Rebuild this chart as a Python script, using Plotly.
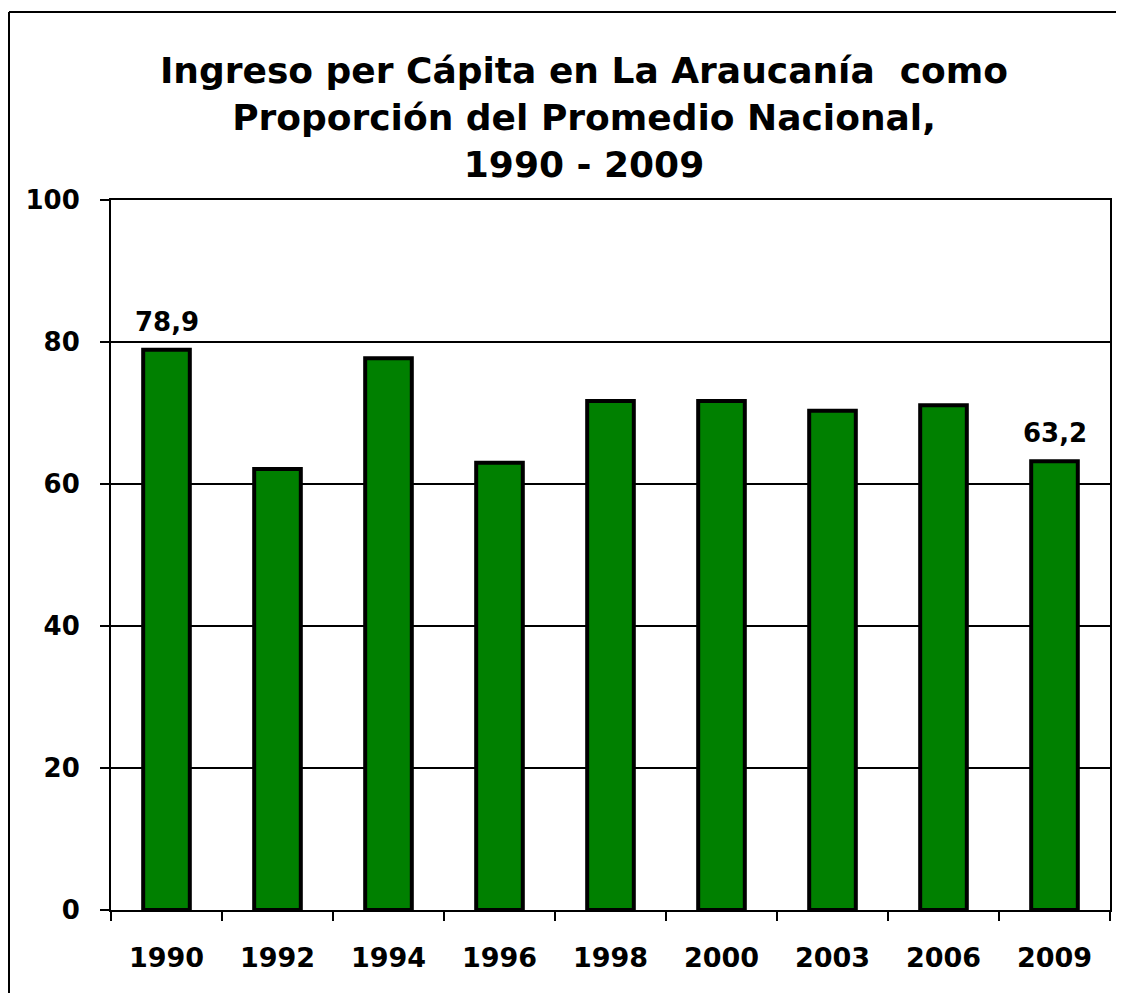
import plotly.graph_objects as go

years = ["1990", "1992", "1994", "1996", "1998", "2000", "2003", "2006", "2009"]
values = [78.9, 62.1, 77.7, 63.0, 71.7, 71.7, 70.3, 71.1, 63.2]
labeled = ["1990", "2009"]
y_ticks = [0, 20, 40, 60, 80, 100]

title_text = "Ingreso per Cápita en La Araucanía  como<br>Proporción del Promedio Nacional,<br>1990 - 2009"

FONT = "DejaVu Sans"
OFF = 8  # browser body margin
W, H = 1124 - OFF, 993 - OFF
L, R, T, B = 111 - OFF, 14, 200 - OFF, 83

fig = go.Figure()
fig.add_trace(go.Bar(
    x=years, y=values,
    marker=dict(color="#008000", line=dict(color="black", width=4)),
    cliponaxis=False,
))

# category index positions on the category axis
annotations = [
    dict(x=i, y=v, xref="x", yref="y", text=f"{v:.1f}".replace(".", ","),
         showarrow=False, yanchor="bottom", yshift=11,
         font=dict(family=FONT, size=26, color="black", weight="bold"))
    for i, (y, v) in enumerate(zip(years, values)) if y in labeled
]

pw = W - L - R
ph = H - T - B
def px_x(p):
    return (p - OFF - L) / pw
def px_y(p):
    return (H - B - (p - OFF)) / ph

fig.update_layout(
    width=W, height=H,
    margin=dict(l=L, r=R, t=T, b=B),
    paper_bgcolor="white", plot_bgcolor="white",
    bargap=0.58,
    showlegend=False,
    font=dict(family=FONT, color="black"),
    title=dict(
        text=title_text,
        x=px_x(584), xref="paper", xanchor="center",
        y=1 - 75 / H, yref="container", yanchor="top",
        font=dict(family=FONT, size=36, color="black", weight="bold"),
    ),
    xaxis=dict(
        type="category",
        categoryorder="array", categoryarray=years,
        showline=True, linecolor="black", linewidth=2, mirror=True,
        ticks="outside", tickson="boundaries", ticklen=9, tickwidth=1.5, tickcolor="black",
        ticklabelstandoff=23, tickangle=0,
        tickfont=dict(family=FONT, size=27, color="black", weight="bold"),
        showgrid=False,
    ),
    yaxis=dict(
        range=[0, 100],
        tickvals=y_ticks,
        showline=True, linecolor="black", linewidth=2, mirror=True,
        ticks="outside", ticklen=9, tickwidth=1.5, tickcolor="black",
        ticklabelstandoff=15,
        tickfont=dict(family=FONT, size=26, color="black", weight="bold"),
        showgrid=True, gridcolor="black", gridwidth=1.5,
        zeroline=False,
    ),
    annotations=annotations,
    shapes=[
        dict(type="line", xref="paper", yref="paper",
             x0=px_x(9), x1=px_x(1130), y0=px_y(12), y1=px_y(12),
             line=dict(color="black", width=2)),
        dict(type="line", xref="paper", yref="paper",
             x0=px_x(9), x1=px_x(9), y0=px_y(12), y1=px_y(1000),
             line=dict(color="black", width=2)),
    ],
)

fig.write_html("out.html")
